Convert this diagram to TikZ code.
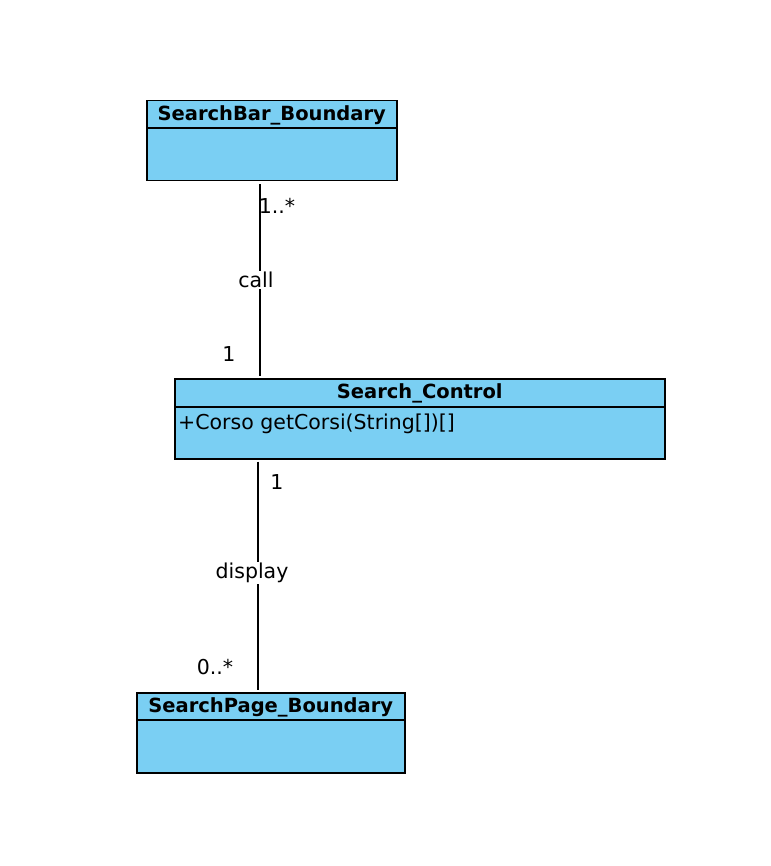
\documentclass[tikz,border=0pt]{standalone}
\usepackage{fontspec}
\setmainfont{DejaVu Sans}
\definecolor{umlblue}{RGB}{122,207,243}
\tikzset{
  classbox/.style={draw=black, fill=umlblue, line width=1.5pt, inner sep=0pt},
  head/.style={font=\fontsize{19.5}{22}\selectfont\bfseries, inner sep=0pt},
  lbl/.style={font=\fontsize{20.5}{24}\selectfont, inner sep=1pt},
  assoc/.style={draw=black, line width=1.4pt}
}
\begin{document}
\begin{tikzpicture}[x=1pt,y=-1pt]
\useasboundingbox (0,0) rectangle (770,866);
% classes
\node[classbox, minimum width=250pt, minimum height=80pt, anchor=north west] (sb) at (146,100) {};
\draw[line width=1.5pt] ([yshift=-28pt]sb.north west) -- ([yshift=-28pt]sb.north east);
\node[head] (sbt) at ([yshift=-15pt]sb.north) {SearchBar\_Boundary};

\node[classbox, minimum width=490pt, minimum height=80pt, anchor=north west] (sc) at (174,378) {};
\draw[line width=1.5pt] ([yshift=-29pt]sc.north west) -- ([yshift=-29pt]sc.north east);
\node[head] (sct) at ([yshift=-15.5pt]sc.north) {Search\_Control};
\node[lbl, anchor=west] (scop) at ([xshift=3pt,yshift=-46pt]sc.north west) {+Corso getCorsi(String[])[]};

\node[classbox, minimum width=268pt, minimum height=80pt, anchor=north west] (sp) at (136,692) {};
\draw[line width=1.5pt] ([yshift=-28pt]sp.north west) -- ([yshift=-28pt]sp.north east);
\node[head] (spt) at ([yshift=-15pt]sp.north) {SearchPage\_Boundary};

% associations
\draw[assoc, shorten <=3pt, shorten >=2pt] ([xshift=-11.75pt]sb.south) -- ([xshift=-11.75pt]sb.south |- sc.north)
  node[pos=0.5, fill=white, lbl, xshift=-4pt] (call) {call};
\draw[assoc, shorten <=2pt, shorten >=2pt] ([xshift=84pt]sc.south west) -- ([xshift=84pt]sc.south west |- sp.north)
  node[pos=0.5, fill=white, lbl, xshift=-6pt, yshift=3pt] (disp) {display};

% multiplicities
\node[lbl] (m1) at (277,206) {1..*};
\node[lbl] (m2) at (229,354) {1};
\node[lbl] (m3) at (277,482) {1};
\node[lbl] (m4) at (215,667) {0..*};
\end{tikzpicture}
\end{document}
